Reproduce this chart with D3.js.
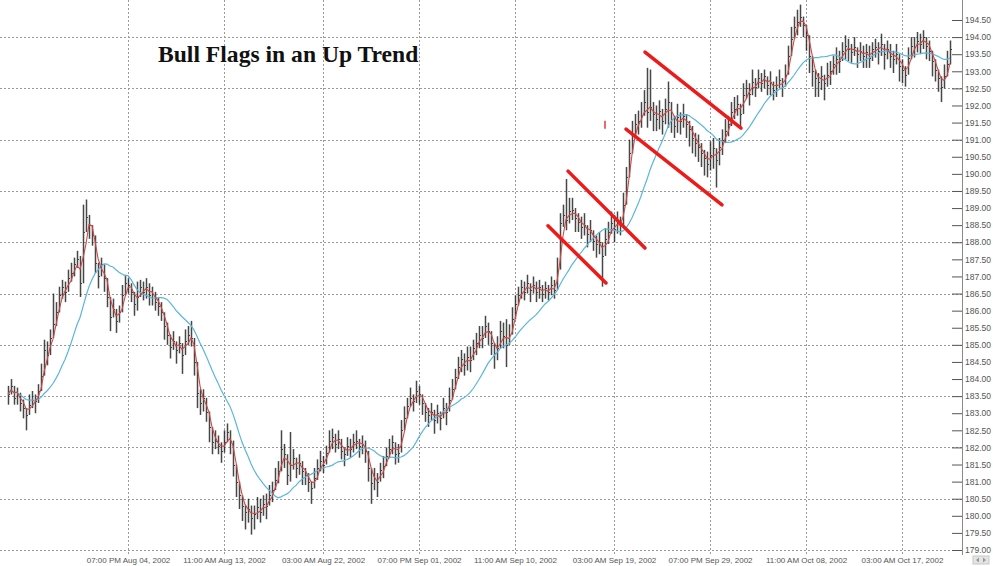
<!DOCTYPE html>
<html><head><meta charset="utf-8">
<script src="https://cdn.jsdelivr.net/npm/d3@7"></script>
<style>html,body{margin:0;padding:0;background:#fff;} svg{display:block;}</style>
</head><body>
<svg id="chart" width="993" height="566"></svg>
<script>
// ---- data ----
const closes = [
183.55,183.80,183.45,183.60,183.30,183.15,182.95,183.25,183.40,183.35,
183.65,184.10,184.85,184.70,185.20,185.60,185.95,186.45,186.70,186.55,
186.95,187.10,187.35,187.50,186.80,188.30,188.75,188.50,188.20,187.40,
187.00,187.35,186.95,186.40,185.80,186.05,185.70,185.95,186.45,186.80,
186.75,186.55,186.20,186.40,186.70,186.55,186.70,186.45,186.50,186.25,
186.15,185.95,185.55,185.30,184.95,185.10,184.85,185.05,184.70,185.10,
185.30,185.20,184.50,183.60,183.30,183.45,183.05,182.60,182.15,182.20,
182.05,181.90,182.15,182.45,182.20,181.50,181.00,180.60,180.30,180.10,
180.20,179.95,180.05,180.25,180.10,180.35,180.30,180.60,180.75,181.05,
181.30,181.95,181.80,181.20,181.50,181.70,181.40,181.55,181.30,181.20,
181.00,180.80,181.10,181.40,181.60,181.50,181.85,182.20,182.30,182.10,
182.25,181.90,181.80,182.05,181.95,182.15,182.20,182.05,182.10,181.90,
181.40,180.95,181.10,181.00,181.35,181.45,181.75,181.95,182.15,181.80,
181.85,182.50,182.85,183.20,183.45,183.35,183.65,183.55,183.30,183.05,
182.95,183.05,182.80,183.00,182.85,183.15,183.05,183.40,183.70,184.05,
184.35,184.60,184.40,184.65,184.55,184.90,185.05,185.30,185.20,185.55,
185.40,185.05,184.75,184.90,185.40,185.25,185.00,185.30,185.75,186.20,
186.45,186.70,186.55,186.80,186.60,186.75,186.55,186.70,186.50,186.65,
186.55,186.75,186.60,187.20,188.55,188.80,188.65,188.90,188.95,188.70,
188.60,188.45,188.50,188.25,188.35,188.05,187.95,188.00,187.60,188.10,
188.30,188.55,188.40,188.60,188.50,189.10,189.90,190.60,191.20,191.45,
191.55,191.70,192.10,191.80,191.95,191.75,191.60,191.85,191.55,191.90,
192.10,191.60,191.40,191.65,191.55,191.70,191.45,191.30,191.05,190.90,
190.80,190.60,190.45,190.30,190.55,190.75,190.40,190.80,191.00,191.25,
191.45,191.80,191.90,192.05,191.75,192.30,192.50,192.35,192.70,192.55,
192.80,192.65,192.85,192.60,192.70,192.45,192.60,192.75,192.55,192.90,
193.45,193.95,194.30,194.45,194.60,194.35,194.05,193.45,193.00,192.80,
192.70,192.85,192.65,192.90,193.00,193.20,193.35,193.30,193.60,193.75,
193.65,193.55,193.70,193.50,193.60,193.45,193.55,193.40,193.65,193.70,
193.60,193.80,193.50,193.65,193.45,193.35,193.50,193.15,193.05,192.90,
193.40,193.75,193.70,193.90,193.80,194.00,193.75,193.60,193.30,193.05,
192.80,192.55,192.85,193.20,193.65
];
// distance of each bar's high above / low below its close, in hundredths
const highExt = [
25,20,30,15,20,25,20,30,25,20, 20,35,30,40,25,90,30,25,20,30,
25,30,20,25,80,80,50,30,25,35, 30,20,35,25,20,30,25,20,30,25,
20,25,30,45,20,30,25,35,20,30, 25,30,20,35,25,30,25,20,30,35,
25,50,35,30,40,25,30,35,25,30, 30,25,35,25,30,40,25,30,25,20,
30,35,25,30,40,25,35,30,25,35, 30,55,30,35,95,25,30,25,30,20,
25,20,30,25,30,25,20,30,25,30, 25,30,20,25,30,25,30,20,25,30,
20,25,30,25,20,30,25,30,20,25, 25,30,35,25,30,20,30,25,20,25,
20,25,30,25,20,30,25,35,30,25, 30,25,35,30,40,25,30,25,35,30,
25,30,25,35,30,40,75,30,35,25, 25,20,30,25,20,25,30,20,25,20,
20,25,30,35,30,30,120,40,35,30, 25,30,35,25,30,20,25,30,35,30,
30,35,40,30,25,35,30,40,35,30, 30,40,35,130,110,35,40,30,35,30,
60,35,30,40,25,35,30,25,35,30, 35,30,25,35,40,30,35,25,30,35,
25,30,35,25,30,35,25,30,35,25, 25,30,20,25,30,20,25,30,25,30,
30,35,30,35,35,25,30,25,30,25, 25,30,25,35,30,25,35,30,25,30,
30,25,30,20,25,30,25,35,20,25, 25,30,20,25,35,25,30,25,30,25,
30,25,30,25,30,20,25,30,25,30, 25,30,35,40,25
];
const lowExt = [
30,25,20,35,25,30,45,30,25,35, 35,25,45,30,35,25,40,30,35,30,
30,25,35,25,40,30,35,40,30,30, 35,30,40,30,40,25,35,30,25,30,
25,30,35,40,30,25,35,30,35,25, 30,25,40,30,35,25,40,30,55,30,
30,25,40,45,35,40,30,45,35,25, 25,35,30,30,40,35,45,40,45,50,
40,50,45,35,30,35,40,30,35,30, 35,30,40,30,50,35,30,35,40,30,
30,45,25,35,30,25,35,30,35,25, 30,25,35,30,25,30,25,35,30,35,
40,60,35,45,30,35,30,25,35,30, 30,35,25,30,25,30,35,30,35,30,
35,25,40,30,35,30,40,25,30,35, 35,40,30,40,35,30,35,40,30,35,
40,35,45,35,30,35,65,30,35,40, 30,35,25,30,35,25,30,35,25,30,
25,30,25,40,100,35,30,35,30,40, 30,35,30,40,35,30,40,35,90,30,
35,30,40,35,30,45,40,50,45,40, 40,35,30,45,40,50,35,55,40,45,
75,40,35,45,40,35,40,50,45,40, 45,40,50,40,45,60,80,55,45,35,
35,40,30,35,40,45,30,35,40,30, 30,25,35,30,40,30,35,25,30,35,
40,45,35,40,30,35,45,50,45,55, 45,40,50,35,40,30,45,35,30,40,
35,30,25,40,30,35,45,30,35,30, 40,35,45,30,35,40,30,45,40,35,
35,40,30,35,30,35,40,30,45,35, 40,45,35,30,40
];
const priceTicks = [179,179.5,180,180.5,181,181.5,182,182.5,183,183.5,184,184.5,185,185.5,186,186.5,187,187.5,188,188.5,189,189.5,190,190.5,191,191.5,192,192.5,193,193.5,194,194.5];
const gridPrices = [179,180.5,182,183.5,185,186.5,188,189.5,191,192.5,194];
const dateLabels = ["07:00 PM Aug 04, 2002","11:00 AM Aug 13, 2002","03:00 AM Aug 22, 2002","07:00 PM Sep 01, 2002","11:00 AM Sep 10, 2002","03:00 AM Sep 19, 2002","07:00 PM Sep 29, 2002","11:00 AM Oct 08, 2002","03:00 AM Oct 17, 2002"];
const dateIndex = [40,72,105,137,169,202,234,266,298];
// flag lines: [bar index, price] -> [bar index, price]
const flagStartIdx = [180,186.67,206,212.33];
const flagStartPrice = [188.48,190.08,191.31,193.56];
const flagEndIdx = [199.33,212.33,238,244.33];
const flagEndPrice = [186.81,187.83,189.09,191.34];
const markIdx = 199, markLow = 191.32, markHigh = 191.55;
const fastPeriod = 3, slowPeriod = 16;
const title = "Bull Flags in an Up Trend";

// ---- drawing ----
const svg = d3.select("#chart");
const n = closes.length;
const x = d3.scaleLinear().domain([0, n - 1]).range([8, 950]);
const y = d3.scaleLinear().domain([179, 194.5]).range([550, 20]);
const axisX = 962, plotBottom = 555;

const bars = closes.map((c, i) => {
  const o = i > 0 ? closes[i - 1] : c;
  const hi = c + highExt[i] / 100, lo = c - lowExt[i] / 100;
  return {i, o, c, h: Math.max(hi, o, c), l: Math.min(lo, o, c)};
});
function sma(p) {
  return closes.map((c, i) => d3.mean(closes.slice(Math.max(0, i - p + 1), i + 1)));
}
const fast = sma(fastPeriod), slow = sma(slowPeriod);

// grid
const grid = svg.append("g").attr("stroke", "#9a9a9a").attr("stroke-dasharray", "2,2").attr("stroke-width", 1);
grid.selectAll("line.h").data(gridPrices).join("line").attr("class", "h")
  .attr("x1", 0).attr("x2", axisX).attr("y1", d => Math.round(y(d)) + 0.5).attr("y2", d => Math.round(y(d)) + 0.5);
grid.selectAll("line.v").data(dateIndex).join("line").attr("class", "v")
  .attr("x1", d => Math.round(x(d)) + 0.5).attr("x2", d => Math.round(x(d)) + 0.5).attr("y1", 0).attr("y2", plotBottom);

// bars
const bg = svg.append("g").attr("stroke", "#1a1a1a");
bg.selectAll("line.r").data(bars).join("line").attr("class", "r")
  .attr("stroke-width", 1.5).attr("opacity", 0.8)
  .attr("x1", d => Math.round(x(d.i)) + 0.5).attr("x2", d => Math.round(x(d.i)) + 0.5)
  .attr("y1", d => y(d.h)).attr("y2", d => y(d.l));
bg.selectAll("line.cl").data(bars).join("line").attr("class", "cl")
  .attr("stroke-width", 1).attr("opacity", 0.8)
  .attr("x1", d => Math.round(x(d.i)) + 1).attr("x2", d => Math.round(x(d.i)) + 2)
  .attr("y1", d => Math.round(y(d.c)) + 0.5).attr("y2", d => Math.round(y(d.c)) + 0.5);

// moving averages
const line = d3.line().x((d, i) => x(i)).y(d => y(d));
svg.append("path").datum(slow).attr("d", line).attr("fill", "none").attr("stroke", "#5ab6dc").attr("stroke-width", 1.2);
svg.append("path").datum(fast).attr("d", line).attr("fill", "none").attr("stroke", "#cc4a46").attr("stroke-width", 1.1);

// flag lines
svg.append("g").selectAll("line").data(flagStartIdx).join("line")
  .attr("x1", d => x(d)).attr("y1", (d, k) => y(flagStartPrice[k]))
  .attr("x2", (d, k) => x(flagEndIdx[k])).attr("y2", (d, k) => y(flagEndPrice[k]))
  .attr("stroke", "#ee1a1a").attr("stroke-width", 3.5).attr("stroke-linecap", "round");
svg.append("line").attr("x1", x(markIdx)).attr("x2", x(markIdx)).attr("y1", y(markHigh)).attr("y2", y(markLow))
  .attr("stroke", "#e03a3a").attr("stroke-width", 1.5);

// right axis
svg.append("line").attr("x1", axisX + 0.5).attr("x2", axisX + 0.5).attr("y1", 0).attr("y2", plotBottom)
  .attr("stroke", "#8a8a8a");
const ya = svg.append("g").attr("transform", `translate(${axisX},0)`)
  .call(d3.axisRight(y).tickValues(priceTicks).tickFormat(d3.format(".2f")).tickSizeInner(-10).tickSizeOuter(0).tickPadding(3));
ya.select(".domain").remove();
ya.selectAll(".tick line").attr("stroke", "#555");
ya.selectAll("text").attr("fill", "#555").style("font-family", "'Liberation Sans', Arial, sans-serif").style("font-size", "8.5px");

// bottom labels
const xa = svg.append("g").attr("transform", `translate(0,${plotBottom})`)
  .call(d3.axisBottom(x).tickValues(dateIndex).tickFormat((d, k) => dateLabels[k]).tickSize(0).tickPadding(2));
xa.select(".domain").remove();
xa.selectAll("text").attr("fill", "#555").style("font-family", "'Liberation Sans', Arial, sans-serif").style("font-size", "8px");

// tiny scroll icon
svg.append("rect").attr("x", 973).attr("y", 556).attr("width", 16).attr("height", 8).attr("fill", "#e4e4e4").attr("stroke", "#c8c8c8");
svg.append("path").attr("d", "M976,560 l3,-2.5 v5 z M986,560 l-3,-2.5 v5 z").attr("fill", "#999");

// title
svg.append("text").attr("x", 158).attr("y", 62).text(title)
  .style("font-family", "'Liberation Serif', 'Times New Roman', serif").style("font-weight", "bold").style("font-size", "23.6px").attr("fill", "#111");
</script>
</body></html>
